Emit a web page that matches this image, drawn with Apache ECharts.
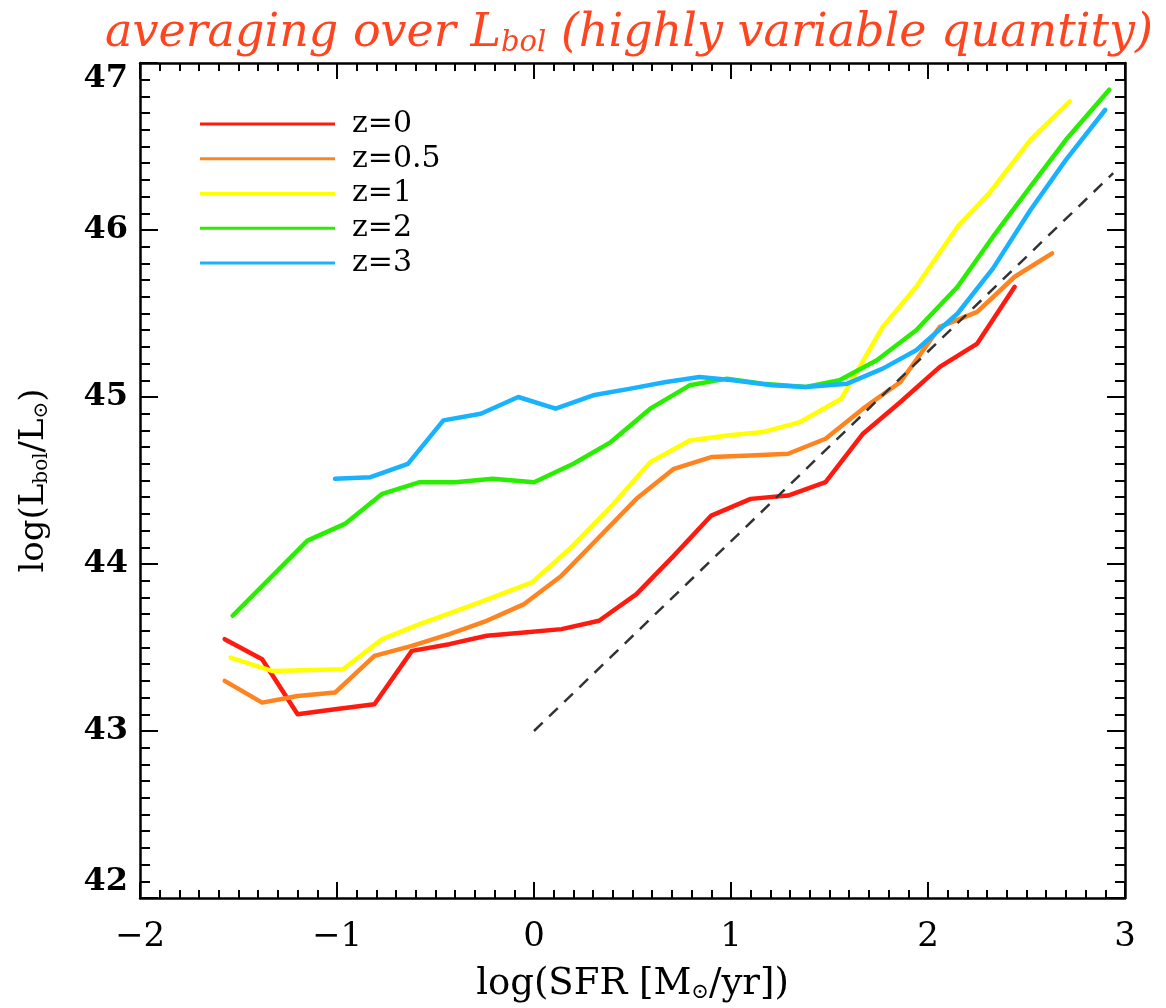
<!DOCTYPE html>
<html>
<head>
<meta charset="utf-8">
<script src="https://cdn.jsdelivr.net/npm/echarts@6/dist/echarts.min.js"></script>
<style>html,body{margin:0;padding:0;background:#fff}#c{width:1166px;height:1008px}</style>
</head>
<body>
<div id="c"></div>
<script>
// Data: [log SFR, log Lbol]
const seriesNames = ['z=0', 'z=0.5', 'z=1', 'z=2', 'z=3'];
const z0 = [[-1.57,43.55],[-1.38,43.43],[-1.20,43.10],[-1.01,43.13],[-0.81,43.16],[-0.62,43.48],[-0.43,43.52],[-0.24,43.57],[-0.05,43.59],[0.14,43.61],[0.33,43.66],[0.52,43.82],[0.71,44.05],[0.90,44.29],[1.10,44.39],[1.29,44.41],[1.48,44.49],[1.67,44.78],[1.86,44.97],[2.06,45.18],[2.25,45.32],[2.44,45.66]];
const z05 = [[-1.57,43.30],[-1.38,43.17],[-1.20,43.21],[-1.01,43.23],[-0.81,43.45],[-0.62,43.51],[-0.43,43.58],[-0.24,43.66],[-0.05,43.76],[0.14,43.93],[0.33,44.16],[0.52,44.39],[0.71,44.57],[0.90,44.64],[1.10,44.65],[1.29,44.66],[1.48,44.75],[1.67,44.93],[1.86,45.09],[2.06,45.42],[2.25,45.51],[2.44,45.72],[2.63,45.86]];
const z1 = [[-1.54,43.44],[-1.33,43.36],[-0.97,43.37],[-0.77,43.55],[-0.58,43.64],[-0.30,43.76],[-0.01,43.89],[0.18,44.09],[0.38,44.33],[0.59,44.61],[0.79,44.74],[0.98,44.77],[1.16,44.79],[1.35,44.85],[1.56,44.99],[1.77,45.42],[1.94,45.66],[2.15,46.02],[2.31,46.22],[2.52,46.54],[2.72,46.77]];
const z2 = [[-1.53,43.69],[-1.15,44.14],[-0.96,44.24],[-0.77,44.42],[-0.58,44.49],[-0.40,44.49],[-0.21,44.51],[0.00,44.49],[0.20,44.60],[0.39,44.73],[0.59,44.93],[0.79,45.07],[0.98,45.11],[1.16,45.08],[1.38,45.06],[1.55,45.10],[1.74,45.22],[1.94,45.40],[2.15,45.66],[2.33,45.96],[2.52,46.26],[2.70,46.54],[2.92,46.84]];
const z3 = [[-1.01,44.51],[-0.83,44.52],[-0.64,44.60],[-0.46,44.86],[-0.27,44.90],[-0.08,45.00],[0.11,44.93],[0.30,45.01],[0.49,45.05],[0.67,45.09],[0.84,45.12],[1.01,45.10],[1.21,45.07],[1.38,45.06],[1.59,45.08],[1.77,45.17],[1.94,45.28],[2.15,45.50],[2.33,45.77],[2.52,46.12],[2.70,46.42],[2.90,46.72]];
const refLine = [[0.0,43.0],[2.94,46.34]];
const xTicks = [-2,-1,0,1,2,3];
const yTicks = [42,43,44,45,46,47];

const colors = ['#ff1a10', '#ff8420', '#ffff00', '#28ee00', '#18b2ff'];
const allData = [z0, z05, z1, z2, z3];
const FONT = 'DejaVu Serif';

const chart = echarts.init(document.getElementById('c'), null, {renderer:'canvas'});

const axisLine = {show:true, onZero:false, lineStyle:{color:'#000', width:2.5}};
function xAx(pos, labels){
  return {
    type:'value', position:pos, min:xTicks[0], max:xTicks[xTicks.length-1], interval:1,
    axisLine, splitLine:{show:false},
    axisTick:{show:true, inside:true, length:16, lineStyle:{color:'#000', width:2}},
    minorTick:{show:true, splitNumber:10, length:8, lineStyle:{color:'#000', width:2}},
    axisLabel:{show:labels, fontFamily:FONT, fontSize:34, color:'#000', margin:22,
      formatter: v => (v<0 ? '\u2212' + Math.abs(v) : String(v))},
    name: labels ? '{t|log(SFR [M}{s|\u2299}{t|/yr])}' : '',
    nameLocation:'middle', nameGap:68,
    nameTextStyle:{rich:{t:{fontFamily:FONT, fontSize:37, color:'#000'}, s:{fontFamily:FONT, fontSize:21, color:'#000', padding:[16,0,0,0]}}}
  };
}
function yAx(pos, labels){
  return {
    type:'value', position:pos, min:yTicks[0], max:yTicks[yTicks.length-1], interval:1,
    axisLine, splitLine:{show:false},
    axisTick:{show:true, inside:true, length:18, lineStyle:{color:'#000', width:2}},
    minorTick:{show:true, splitNumber:10, length:10, lineStyle:{color:'#000', width:2}},
    axisLabel:{show:labels, fontFamily:FONT, fontSize:32, fontWeight:'bold', color:'#000', margin:12,
      verticalAlignMaxLabel:'top', verticalAlignMinLabel:'bottom'},
    name: labels ? '{t|log(L}{s|bol}{t|/L}{s|\u2299}{t|)}' : '',
    nameLocation:'middle', nameGap:88, nameRotate:90,
    nameTextStyle:{rich:{t:{fontFamily:FONT, fontSize:34, color:'#000'}, s:{fontFamily:FONT, fontSize:20, color:'#000', padding:[16,0,0,0]}}}
  };
}

const series = allData.map((d,i)=>({
  name: seriesNames[i], type:'line', data:d, xAxisIndex:0, yAxisIndex:0,
  showSymbol:false, symbol:'none', smooth:false, animation:false,
  lineStyle:{color:colors[i], width:4.5, cap:'round', join:'round'},
  itemStyle:{color:colors[i]}, z:2+i
}));
series.push({
  name:'ref', type:'line', data:refLine, xAxisIndex:0, yAxisIndex:0,
  showSymbol:false, symbol:'none', animation:false,
  lineStyle:{color:'#333', width:2.5, type:[12,9]}, z:10
});

chart.setOption({
  backgroundColor:'#fff',
  animation:false,
  title:{
    left:100, top:6,
    text:'{t|averaging over L}{s|bol}{t| (highly variable quantity)}',
    textStyle:{rich:{
      t:{fontFamily:FONT, fontStyle:'italic', fontWeight:'normal', fontSize:46, color:'#ff4520'},
      s:{fontFamily:FONT, fontStyle:'italic', fontWeight:'normal', fontSize:29, color:'#ff4520', padding:[18,0,0,0]}
    }}
  },
  legend:{
    show:true, orient:'vertical', left:195, top:104,
    data: seriesNames, icon:'rect', itemWidth:135, itemHeight:3, itemGap:4.75,
    textStyle:{fontFamily:FONT, fontSize:30, color:'#000', lineHeight:30, padding:[0,0,0,12]}
  },
  grid:{left:140, right:41, top:63, bottom:109, containLabel:false},
  xAxis:[xAx('bottom', true), xAx('top', false)],
  yAxis:[yAx('left', true), yAx('right', false)],
  series
});
</script>
</body>
</html>
